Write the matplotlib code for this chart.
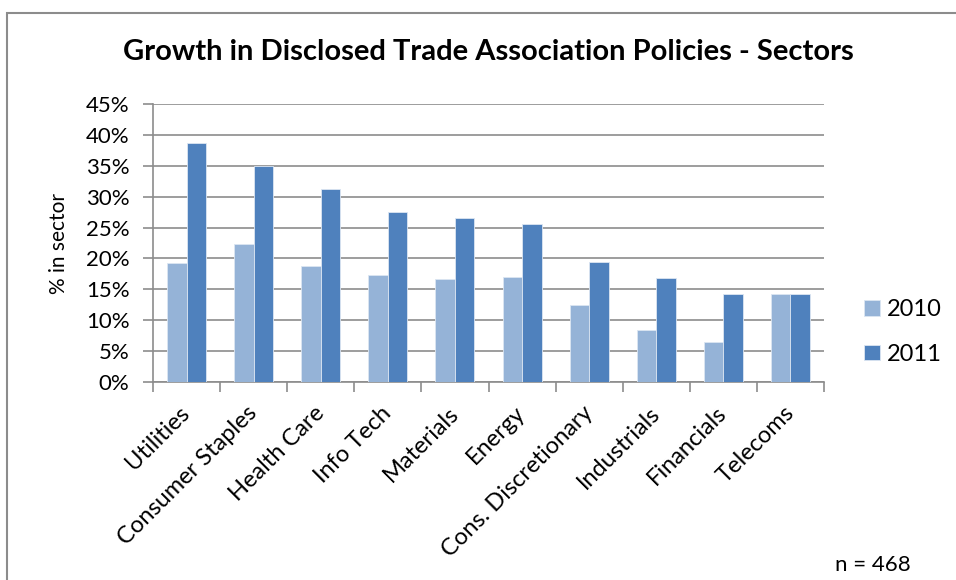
import matplotlib.pyplot as plt
import numpy as np
from matplotlib.patches import Rectangle

sectors = ["Utilities", "Consumer Staples", "Health Care", "Info Tech", "Materials",
           "Energy", "Cons. Discretionary", "Industrials", "Financials", "Telecoms"]
v2010 = [19.3, 22.4, 18.7, 17.4, 16.6, 17.0, 12.5, 8.4, 6.5, 14.2]
v2011 = [38.7, 35.0, 31.2, 27.5, 26.5, 25.6, 19.4, 16.9, 14.2, 14.2]
yticks = [0, 5, 10, 15, 20, 25, 30, 35, 40, 45]

plt.rcParams['font.family'] = ['Lato', 'DejaVu Sans']

fig = plt.figure(figsize=(9.56, 5.8), dpi=100)
W, H = 956, 580
ax = fig.add_axes([153 / W, 1 - 382 / H, (824 - 153) / W, (382 - 104) / H])

# outer chart border (only left and top edges are visible in the image)
fig.patches.append(Rectangle((7 / W, -0.02), 1.0, 1 - 12.5 / H + 0.02,
                             transform=fig.transFigure, fill=False,
                             edgecolor="#8c8c8c", linewidth=1.5))

x = np.arange(len(sectors))
bw = 0.29
ax.bar(x - bw / 2, v2010, bw, color="#95B3D7", edgecolor="#dce6f2", linewidth=0.6, label="2010", zorder=3)
ax.bar(x + bw / 2, v2011, bw, color="#4F81BD", edgecolor="#dce6f2", linewidth=0.6, label="2011", zorder=3)

ax.set_xlim(-0.5, len(sectors) - 0.5)
ax.set_ylim(0, 45)
ax.set_yticks(yticks)
ax.set_yticklabels([f"{t}%" for t in yticks], fontsize=16)
ax.yaxis.grid(True, color="#8c8c8c", linewidth=1.2, zorder=0)
ax.set_axisbelow(True)

ax.set_xticks(x)
ax.set_xticklabels(sectors, rotation=45, ha="right", va="center", rotation_mode="anchor", fontsize=17)
ax.set_xticks(np.arange(-0.5, len(sectors)), minor=True)
ax.tick_params(axis="x", which="major", length=0, pad=20)
ax.tick_params(axis="x", which="minor", length=7, color="#8c8c8c", width=1.2)
ax.tick_params(axis="y", length=7, color="#8c8c8c", width=1.2, pad=10)

for s in ["top", "right"]:
    ax.spines[s].set_visible(False)
for s in ["left", "bottom"]:
    ax.spines[s].set_color("#8c8c8c")
    ax.spines[s].set_linewidth(1.2)

ax.set_ylabel("% in sector", fontsize=15, labelpad=12)

fig.text(488 / W, 1 - 52 / H, "Growth in Disclosed Trade Association Policies - Sectors",
         ha="center", va="center", fontsize=21, fontweight="bold")

ax.legend(loc="center left", bbox_to_anchor=(843 / W, 1 - 332 / H), bbox_transform=fig.transFigure,
          frameon=False, fontsize=17, handlelength=0.65, handleheight=0.65, handletextpad=0.3,
          labelspacing=1.0)

fig.text(873 / W, 1 - 565 / H, "n = 468", ha="center", va="center", fontsize=16)

fig.savefig("out.png", dpi=100)
